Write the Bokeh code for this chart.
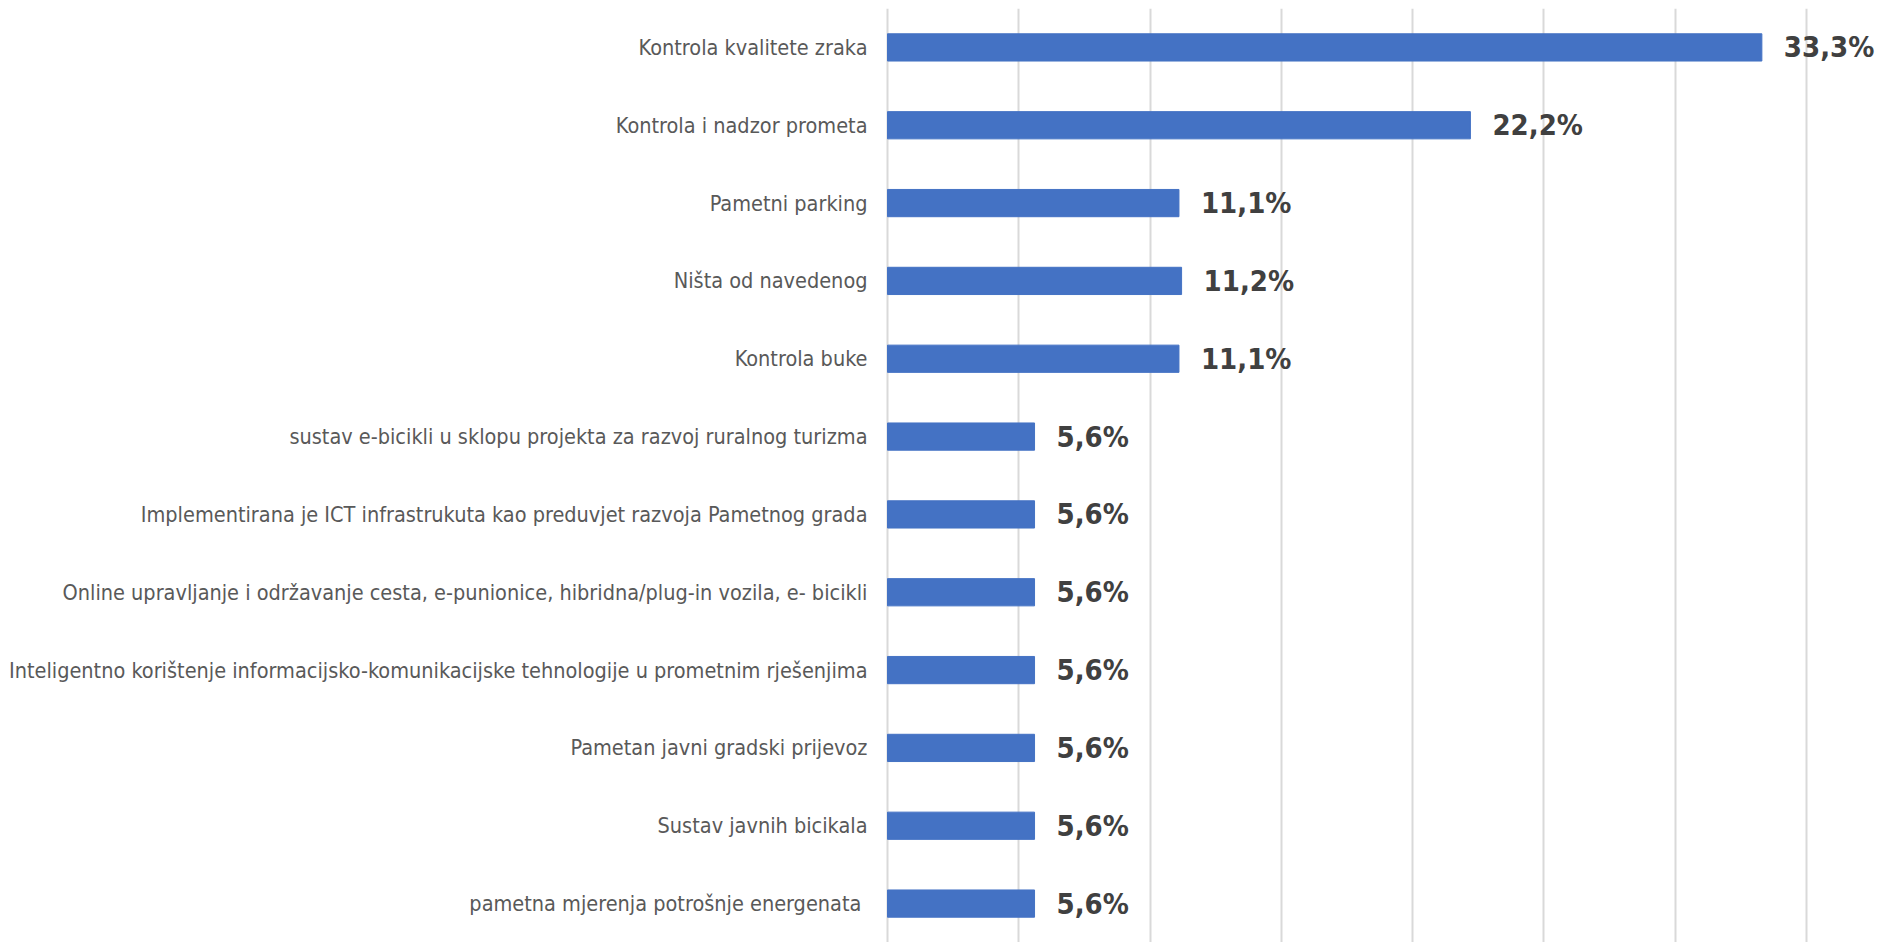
from bokeh.plotting import figure
from bokeh.models import ColumnDataSource, FactorRange, FixedTicker, Range1d
from bokeh.core.properties import value
from bokeh.embed import file_html
from bokeh.resources import INLINE

categories = [
    "Kontrola kvalitete zraka",
    "Kontrola i nadzor prometa",
    "Pametni parking",
    "Ništa od navedenog",
    "Kontrola buke",
    "sustav e-bicikli u sklopu projekta za razvoj ruralnog turizma",
    "Implementirana je ICT infrastrukuta kao preduvjet razvoja Pametnog grada",
    "Online upravljanje i održavanje cesta, e-punionice, hibridna/plug-in vozila, e- bicikli",
    "Inteligentno korištenje informacijsko-komunikacijske tehnologije u prometnim rješenjima",
    "Pametan javni gradski prijevoz",
    "Sustav javnih bicikala",
    "pametna mjerenja potrošnje energenata ",
]
values = [33.3, 22.2, 11.1, 11.2, 11.1, 5.6, 5.6, 5.6, 5.6, 5.6, 5.6, 5.6]
value_labels = [f"{v:.1f}".replace(".", ",") + "%" for v in values]
grid_ticks = [0, 5, 10, 15, 20, 25, 30, 35]

FONT = "DejaVu Sans Condensed"

W, H = 1879, 942
LEFT = 883          # frame left edge (px)
ZERO_PX = 887       # pixel where 0 % sits
MAX_PX = 1806       # pixel where 35 % sits
scale = (MAX_PX - ZERO_PX) / 35.0
x_start = -(ZERO_PX - LEFT) / scale
x_end = (W - ZERO_PX) / scale

source = ColumnDataSource(dict(cat=categories, val=values, lbl=value_labels))

p = figure(
    width=W, height=H,
    y_range=FactorRange(factors=list(reversed(categories)), range_padding=0),
    x_range=Range1d(x_start, x_end),
    output_backend="svg", toolbar_location=None,
    min_border_left=LEFT, min_border_right=0, min_border_top=8, min_border_bottom=0,
)
p.outline_line_color = None
p.background_fill_color = "white"

p.xgrid.ticker = FixedTicker(ticks=grid_ticks)
p.xgrid.grid_line_color = "#d9d9d9"
p.xgrid.grid_line_width = 2
p.ygrid.grid_line_color = None
p.xaxis.visible = False

p.yaxis.axis_line_color = None
p.yaxis.major_tick_line_color = None
p.yaxis.minor_tick_line_color = None
p.yaxis.major_label_standoff = 10
p.yaxis.major_label_text_font = FONT
p.yaxis.major_label_text_font_size = "21.5px"
p.yaxis.major_label_text_color = "#595959"

p.hbar(y="cat", left=0, right="val", height=0.35, source=source,
       fill_color="#4472C4", line_color="#4472C4")

p.text(x="val", y="cat", text="lbl", source=source, x_offset=22,
       text_baseline="middle", text_align="left",
       text_font=value(FONT), text_font_size="29px", text_font_style="bold",
       text_color="#404040")

open("out.html", "w").write(file_html(p, INLINE))
